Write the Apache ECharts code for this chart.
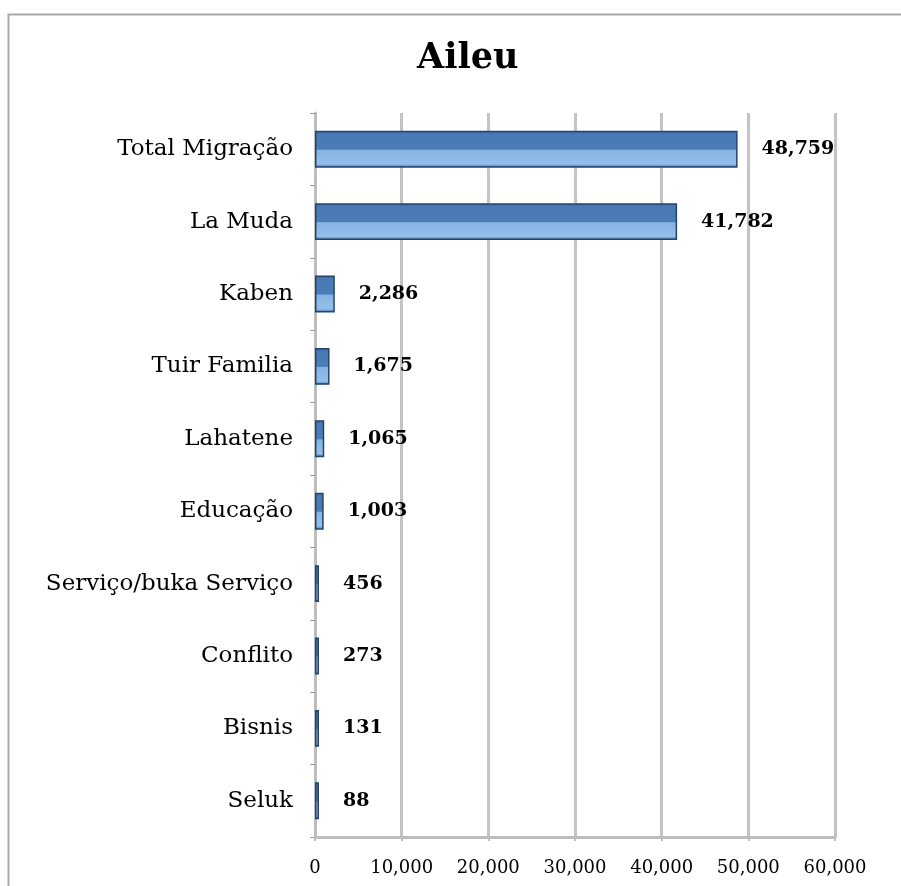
<!DOCTYPE html>
<html lang="en">
<head>
    <meta charset="UTF-8">
    <title>Aileu</title>
    <style>
        html,body{margin:0;padding:0;background:#fff;}
        #chart{width:901px;height:886px;}
    </style>
</head>
<body>
    <div id="chart"></div>
    <script src="https://cdn.jsdelivr.net/npm/echarts@6/dist/echarts.min.js"></script>
    <script>
        let categories=['Total Migração','La Muda','Kaben','Tuir Familia','Lahatene','Educação','Serviço/buka Serviço','Conflito','Bisnis','Seluk'];
        let values=[48759,41782,2286,1675,1065,1003,456,273,131,88];
        let xTicks=[0,10000,20000,30000,40000,50000,60000];

        let myChart=echarts.init(document.getElementById('chart'));

        function fmt(v){
            return v.toString().replace(/\B(?=(\d{3})+(?!\d))/g,',');
        }

        let barColor=new echarts.graphic.LinearGradient(0,0,0,1,[
            {offset:0,color:'#3A69A3'},
            {offset:0.1,color:'#4A7AB6'},
            {offset:0.5,color:'#4C7DB7'},
            {offset:0.53,color:'#86B3E2'},
            {offset:0.9,color:'#94BFEA'},
            {offset:1,color:'#3F6FAA'}
        ]);

        let option={
            backgroundColor:'#fff',
            graphic:[{
                type:'rect',
                left:6,top:12,
                shape:{width:1000,height:1000},
                style:{fill:'none',stroke:'#A8A8A8',lineWidth:2},
                z:-1
            }],
            title:{
                text:'Aileu',
                left:412,
                top:36,
                textStyle:{fontFamily:'DejaVu Serif',fontWeight:'bold',fontSize:35,color:'#000'}
            },
            grid:{left:315,right:66,top:113,bottom:49,containLabel:false},
            xAxis:{
                type:'value',
                min:0,max:60000,interval:10000,
                axisLine:{show:true,lineStyle:{color:'#BDBDBD',width:3}},
                axisTick:{show:true,length:4,lineStyle:{color:'#BDBDBD',width:2}},
                splitLine:{show:true,lineStyle:{color:'#C4C4C4',width:3}},
                axisLabel:{
                    fontFamily:'DejaVu Serif',fontSize:18,color:'#000',margin:22,
                    formatter:function(v){return xTicks.indexOf(v)>=0?fmt(v):'';}
                }
            },
            yAxis:{
                type:'category',
                data:categories,
                inverse:true,
                axisLine:{show:true,lineStyle:{color:'#BDBDBD',width:3}},
                axisTick:{show:true,length:5,lineStyle:{color:'#9A9A9A',width:1}},
                axisLabel:{fontFamily:'DejaVu Serif',fontSize:23,color:'#000',margin:22}
            },
            series:[{
                type:'bar',
                data:values,
                barWidth:'51%',
                barMinHeight:4,
                itemStyle:{color:barColor,borderColor:'#24446F',borderWidth:1.5},
                label:{
                    show:true,
                    position:'right',
                    distance:24,
                    fontFamily:'DejaVu Serif',
                    fontWeight:'bold',
                    fontSize:19,
                    color:'#000',
                    formatter:function(p){return fmt(p.value);}
                },
                animation:false
            }],
            animation:false
        };
        myChart.setOption(option);
    </script>
</body>
</html>
